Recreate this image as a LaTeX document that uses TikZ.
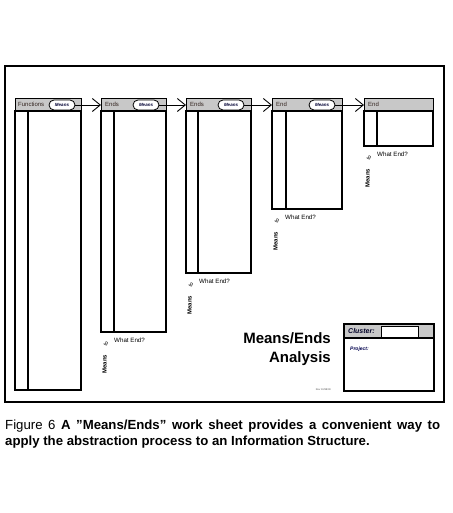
\documentclass[tikz,border=0pt]{standalone}
\usepackage{fontspec}
\setmainfont{Liberation Sans}
\usetikzlibrary{arrows.meta}
\definecolor{hdrgray}{RGB}{200,200,200}
\definecolor{hdrtext}{RGB}{50,35,30}
\tikzset{
  frame/.style={draw=black, line width=1.5pt},
  colline/.style={draw=black, line width=1.1pt},
  hdr/.style={draw=black, line width=1.1pt, fill=hdrgray, anchor=north west, minimum height=13pt, inner sep=0pt},
  hdrlabel/.style={anchor=west, inner sep=0pt, font=\fontsize{6}{7}\selectfont, text=hdrtext},
  oval/.style={draw=black, line width=0.8pt, fill=white, rounded corners=5pt, minimum width=26pt, minimum height=10pt, inner sep=0pt, font=\fontsize{4.5}{5}\selectfont\bfseries\itshape, text=black!80!blue},
  conn/.style={draw=black, line width=0.9pt, -{Straight Barb[length=8pt,width=13pt,line width=0.9pt]}},
  wend/.style={anchor=west, inner sep=0pt, font=\fontsize{6.2}{7}\selectfont},
  vmeans/.style={rotate=90, inner sep=0pt, font=\fontsize{6}{7}\selectfont\bfseries},
  vto/.style={rotate=60, inner sep=0pt, font=\fontsize{5.5}{6}\selectfont},
}
\begin{document}
\begin{tikzpicture}[x=1pt,y=-1pt]
\useasboundingbox (0,0) rectangle (452,513);
% outer frame
\draw[frame] (5,66) rectangle (444,402);

% column 1
\node[hdr, minimum width=66pt] (h1) at (15,98) {};
\draw[colline] (15,111) rectangle (81,390);
\draw[colline] (28,111) -- (28,390);
\node[hdrlabel] (t1) at (18,104.5) {Functions};
\node[oval] (m1) at (62,105) {Means};

% column 2
\node[hdr, minimum width=65pt] (h2) at (101,98) {};
\draw[colline] (101,111) rectangle (166,332);
\draw[colline] (114,111) -- (114,332);
\node[hdrlabel] (t2) at (105,104.5) {Ends};
\node[oval] (m2) at (146,105) {Means};

% column 3
\node[hdr, minimum width=65pt] (h3) at (186,98) {};
\draw[colline] (186,111) rectangle (251,273);
\draw[colline] (198,111) -- (198,273);
\node[hdrlabel] (t3) at (190,104.5) {Ends};
\node[oval] (m3) at (231,105) {Means};

% column 4
\node[hdr, minimum width=70pt] (h4) at (272,98) {};
\draw[colline] (272,111) rectangle (342,209);
\draw[colline] (286,111) -- (286,209);
\node[hdrlabel] (t4) at (276,104.5) {End};
\node[oval] (m4) at (322,105) {Means};

% column 5
\node[hdr, minimum width=69pt] (h5) at (364,98) {};
\draw[colline] (364,111) rectangle (433,146);
\draw[colline] (377,111) -- (377,146);
\node[hdrlabel] (t5) at (368,104.5) {End};

% connectors
\draw[conn] (m1.east) -- (h2.west |- m1.east);
\draw[conn] (m2.east) -- (h3.west |- m2.east);
\draw[conn] (m3.east) -- (h4.west |- m3.east);
\draw[conn] (m4.east) -- (h5.west |- m4.east);

% Means to What End? labels
\foreach \x/\y/\n in {101/332/a, 186/273/b, 272/209/c, 364/146/d}{
  \node[wend] (w\n) at (\x+13,\y+8.5) {What End?};
  \node[vto] (o\n) at (\x+5,\y+12) {to};
  \node[vmeans] (v\n) at (\x+3.5,\y+32) {Means};
}

% title
\node[anchor=base east, inner sep=0pt, font=\fontsize{15}{18}\selectfont\bfseries] (ttl1) at (331,343) {Means/Ends};
\node[anchor=base east, inner sep=0pt, font=\fontsize{15}{18}\selectfont\bfseries] (ttl2) at (331,362) {Analysis};
\node[anchor=base east, inner sep=0pt, font=\fontsize{2.5}{3}\selectfont, text=black!70] (rev) at (331,390) {Rev 10/98/00};

% cluster box
\draw[colline, fill=hdrgray] (344,324) rectangle (434,338);
\draw[colline] (344,338) rectangle (434,391);
\node[draw=black, line width=0.9pt, fill=white, anchor=north west, minimum width=37pt, minimum height=11pt, inner sep=0pt] (cb) at (381,326) {};
\node[anchor=west, inner sep=0pt, font=\fontsize{7}{8}\selectfont\bfseries\itshape, text=black!85!blue] (cl) at (348,331) {Cluster:};
\node[anchor=west, inner sep=0pt, font=\fontsize{5}{6}\selectfont\bfseries\itshape, text=black!70!blue] (pj) at (350,349) {Project:};

% caption
\node[anchor=north west, inner sep=0pt, text width=435pt, align=justify, font=\fontsize{13.2}{15.5}\selectfont] (cap) at (5,420)
  {\hyphenpenalty=10000\exhyphenpenalty=10000 Figure 6 \textbf{A \symbol{34}Means/Ends\symbol{34} work sheet provides a convenient way to\linebreak apply the abstraction process to an Information Structure.}};
\end{tikzpicture}
\end{document}
